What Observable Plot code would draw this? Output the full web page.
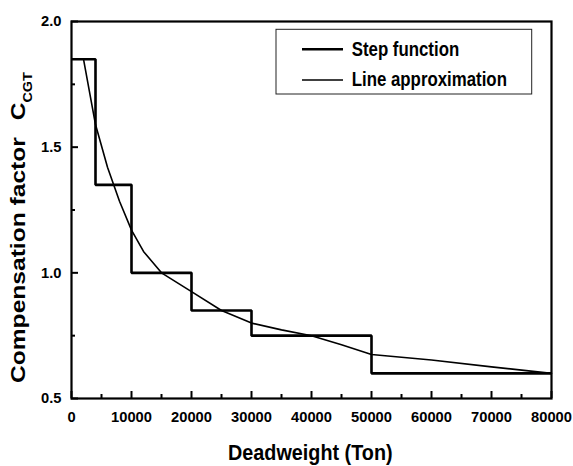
<!DOCTYPE html>
<html>
<head>
<meta charset="utf-8">
<script src="https://cdn.jsdelivr.net/npm/d3@7"></script>
<script src="https://cdn.jsdelivr.net/npm/@observablehq/plot@0.6"></script>
<style>
  html, body { margin: 0; padding: 0; background: white; }
  #chart { width: 573px; height: 466px; }
  #chart g[aria-label$="tick label"],
  #chart g[aria-label$="tick label"] text {
    font-size: 14.7px;
    font-weight: bold;
    font-family: 'Liberation Sans', Arial, Helvetica, sans-serif;
  }
</style>
</head>
<body>
<div id="chart"></div>
<script>
// ---- Data ----
const stepX = [0, 4000, 10000, 20000, 30000, 50000, 80000];
const stepY = [1.85, 1.35, 1.0, 0.85, 0.75, 0.6, 0.6];

const lineX = [2000, 4000, 6000, 8000, 10000, 12000, 15000, 20000, 25000, 30000, 35000, 40000, 45000, 50000, 60000, 70000, 80000];
const lineY = [1.85, 1.59, 1.42, 1.285, 1.17, 1.085, 1.0, 0.925, 0.85, 0.80, 0.773, 0.75, 0.714, 0.675, 0.653, 0.626, 0.60];

const xTickLabels = [0, 10000, 20000, 30000, 40000, 50000, 60000, 70000, 80000];
const xMinorTicks = [5000, 15000, 25000, 35000, 45000, 55000, 65000, 75000];
const yTickLabels = [0.5, 1.0, 1.5, 2.0];
const yMinorTicks = [0.75, 1.25, 1.75];

const seriesNames = ["Step function", "Line approximation"];
const xTitle = "Deadweight (Ton)";
const yTitle = "Compensation factor";
const yTitleSymbol = "C";
const yTitleSub = "CGT";

// ---- Layout ----
const W = 573, H = 466;
const mL = 71, mR = 22, mT = 21, mB = 68;
const plotW = W - mL - mR, plotH = H - mT - mB;
const FONT = "'Liberation Sans', Arial, Helvetica, sans-serif";

function decorations() {
  const g = d3.create("svg:g")
    .attr("font-family", FONT)
    .attr("font-weight", "bold")
    .attr("fill", "black")
    .attr("text-anchor", "start");

  // y-axis title (rotated), with subscript
  const yt = g.append("text")
    .attr("transform", "translate(25,383) rotate(-90) scale(1.2,1)")
    .attr("font-size", 20.5)
    .attr("text-anchor", "start");
  yt.append("tspan").text(yTitle);
  yt.append("tspan").attr("dx", 14).text(yTitleSymbol);
  yt.append("tspan").attr("dy", 7).attr("font-size", 12).text(yTitleSub);

  // x-axis title
  g.append("text")
    .attr("transform", "translate(310.3,460) scale(1,1.12)")
    .attr("font-size", 19.8)
    .attr("text-anchor", "middle")
    .text(xTitle);

  // legend
  const lg = g.append("g");
  lg.append("rect")
    .attr("x", 276).attr("y", 29.3).attr("width", 255.7).attr("height", 64.7)
    .attr("fill", "white").attr("stroke", "#222").attr("stroke-width", 1);
  const rows = [
    {name: seriesNames[0], y: 49.3, sw: 2.6, base: 56},
    {name: seriesNames[1], y: 80, sw: 1.7, base: 86.3}
  ];
  for (const r of rows) {
    lg.append("line")
      .attr("x1", 302).attr("x2", 343).attr("y1", r.y).attr("y2", r.y)
      .attr("stroke", "black").attr("stroke-width", r.sw);
    lg.append("text")
      .attr("transform", `translate(351.7,${r.base}) scale(1,1.18)`)
      .attr("font-size", 16.85)
      .attr("text-anchor", "start")
      .text(r.name);
  }
  return g.node();
}

const chart = Plot.plot({
  width: W,
  height: H,
  marginLeft: mL,
  marginRight: mR,
  marginTop: mT,
  marginBottom: mB,
  style: { fontFamily: FONT, background: "white", color: "black", overflow: "visible" },
  x: { domain: [0, 80000] },
  y: { domain: [0.5, 2.0] },
  marks: [
    // step function
    Plot.line(stepY, {
      x: stepX, y: stepY, curve: "step-after",
      stroke: "black", strokeWidth: 2.6, strokeLinejoin: "miter", strokeLinecap: "butt"
    }),
    // line approximation
    Plot.line(lineY, {
      x: lineX, y: lineY,
      stroke: "black", strokeWidth: 1.6, strokeLinejoin: "round"
    }),
    // inward tick marks
    Plot.tickX(xTickLabels, { x: d => d, insetTop: plotH - 7, stroke: "black", strokeWidth: 2 }),
    Plot.tickX(xMinorTicks, { x: d => d, insetTop: plotH - 4, stroke: "black", strokeWidth: 2 }),
    Plot.tickY(yTickLabels, { y: d => d, insetRight: plotW - 7, stroke: "black", strokeWidth: 2 }),
    Plot.tickY(yMinorTicks, { y: d => d, insetRight: plotW - 4, stroke: "black", strokeWidth: 2 }),
    // axes (labels only)
    Plot.axisX(xTickLabels, {
      tickSize: 0, tickPadding: 13, fontSize: 14.7, fontWeight: "bold",
      tickFormat: d => String(d), label: null
    }),
    Plot.axisY(yTickLabels, {
      tickSize: 0, tickPadding: 10, fontSize: 14.7, fontWeight: "bold",
      tickFormat: d3.format(".1f"), label: null
    }),
    Plot.frame({ stroke: "black", strokeWidth: 2.2 }),
    decorations
  ]
});

document.getElementById("chart").appendChild(chart);
</script>
</body>
</html>
